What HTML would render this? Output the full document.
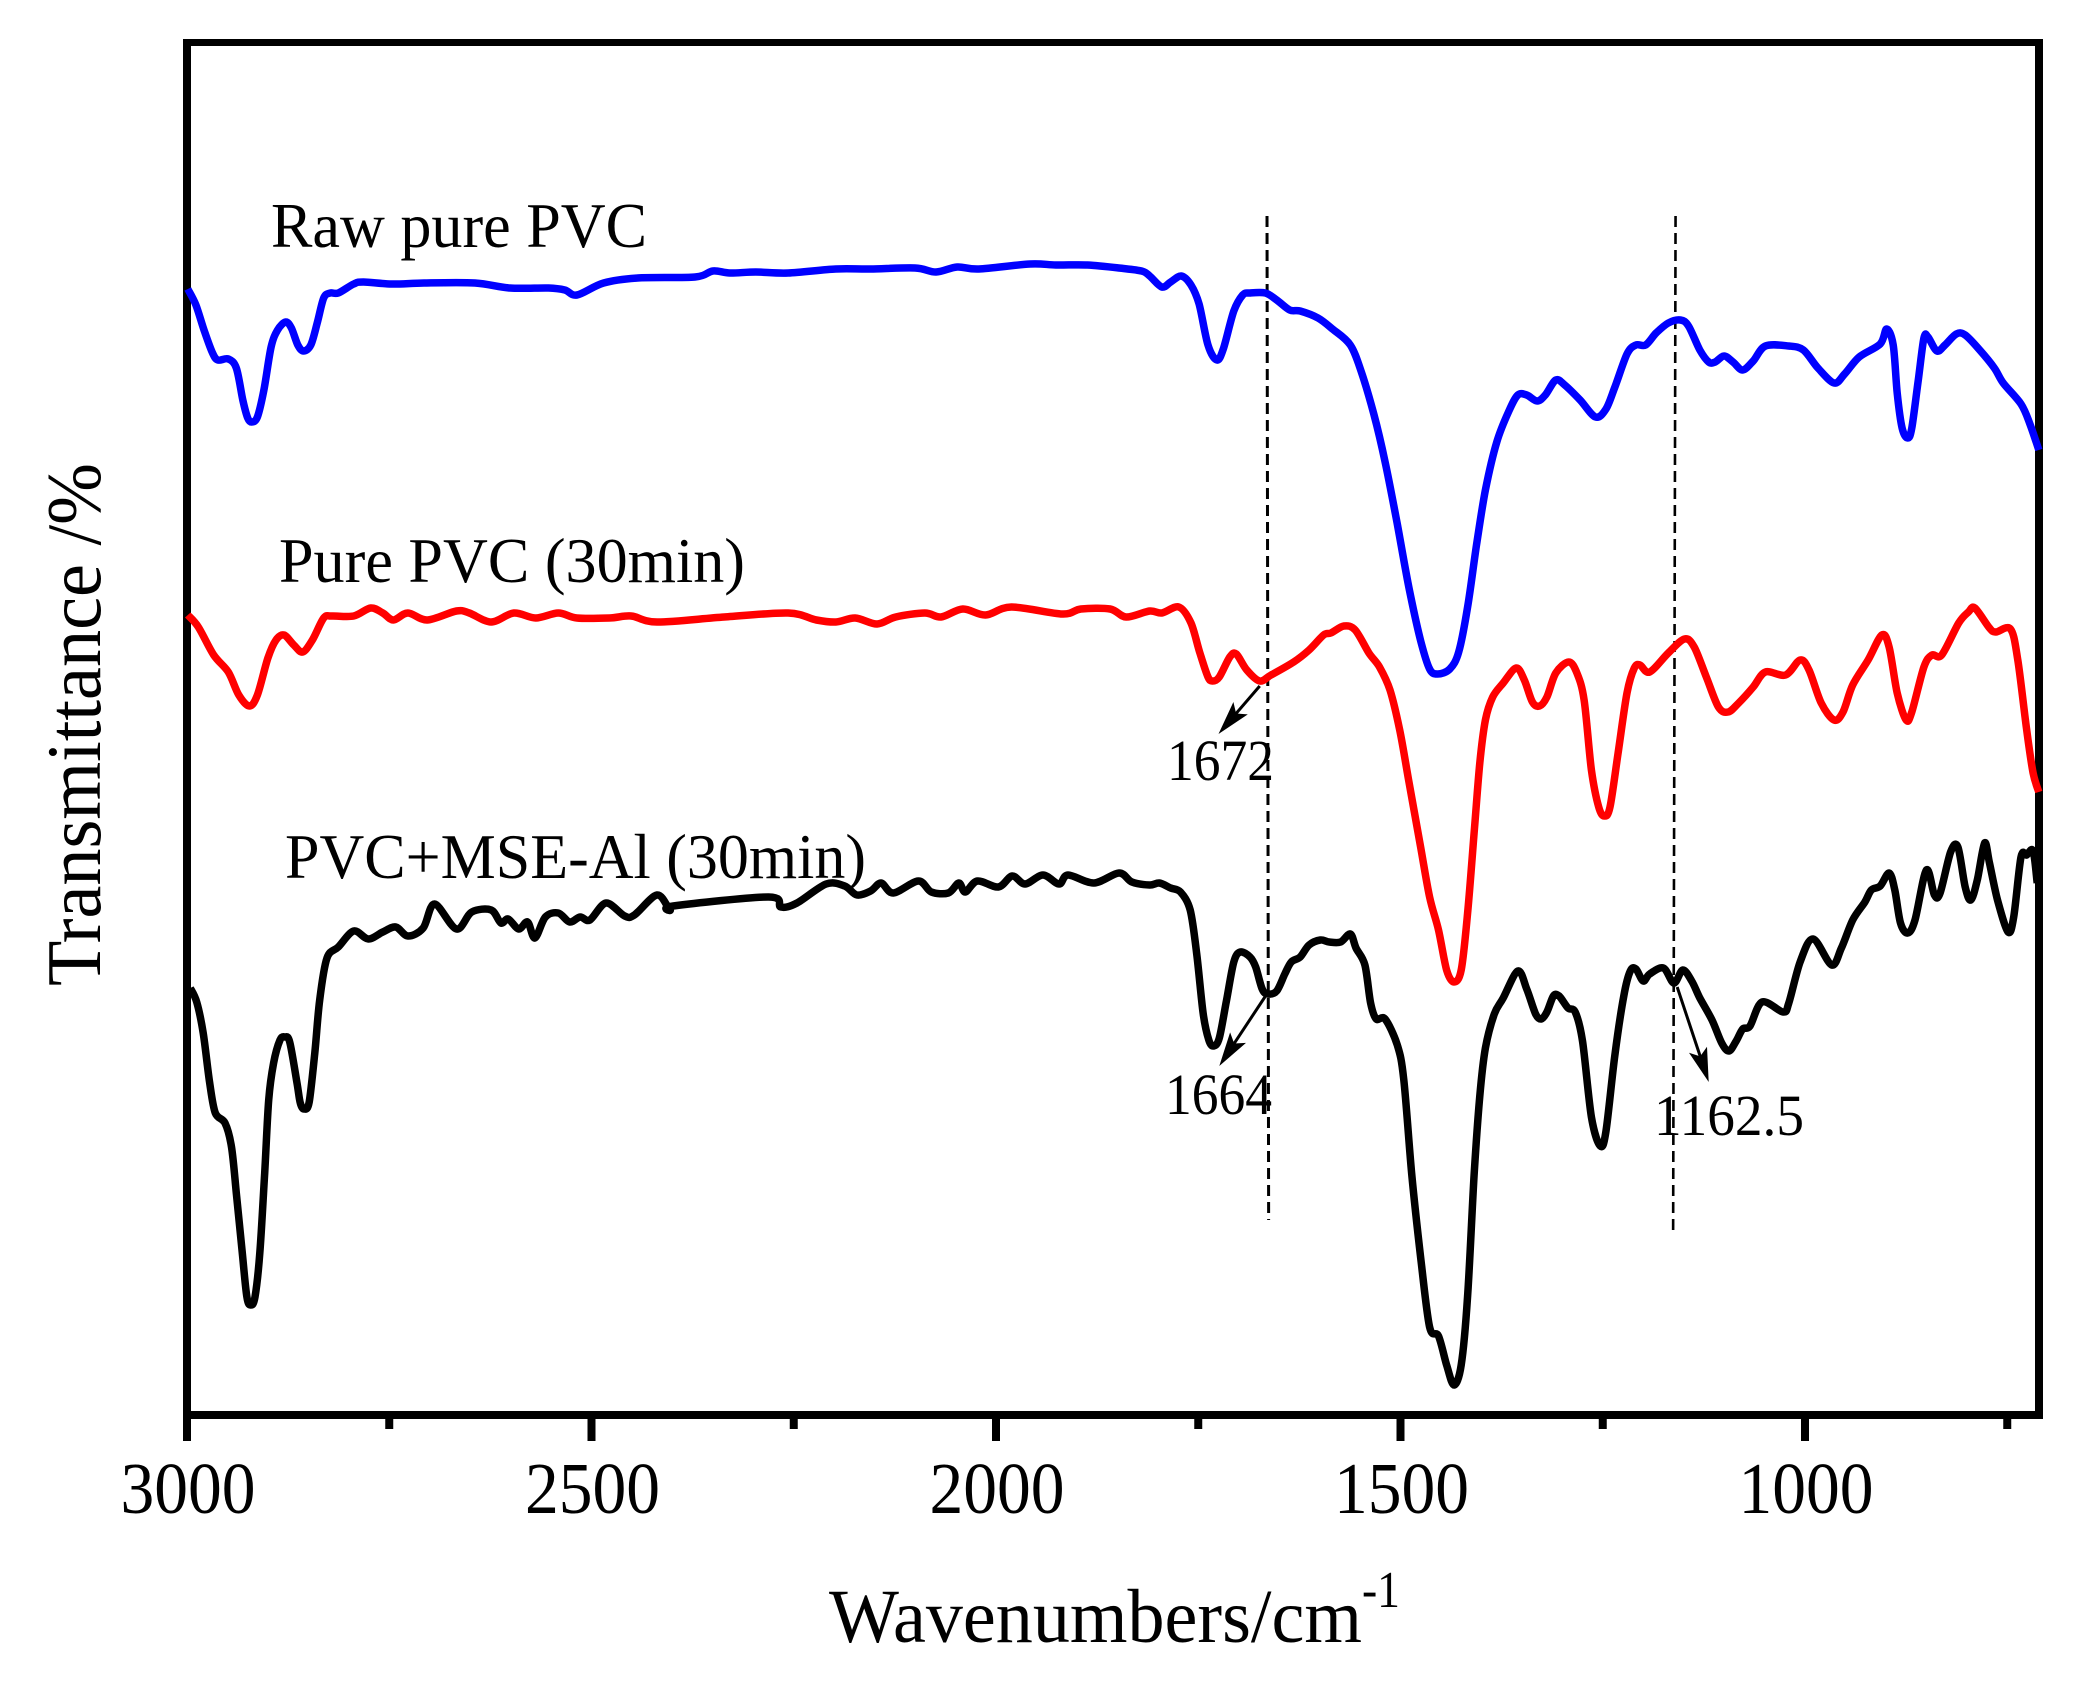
<!DOCTYPE html>
<html lang="en">
<head>
<meta charset="utf-8">
<title>FTIR spectra of PVC samples</title>
<style>
  html, body { margin: 0; padding: 0; background: #ffffff; }
  svg { display: block; }
  text { font-family: "Liberation Serif", serif; fill: #000; }
</style>
</head>
<body>
<svg id="chart" xmlns="http://www.w3.org/2000/svg" width="2073" height="1689" viewBox="0 0 2073 1689">
  <rect x="0" y="0" width="2073" height="1689" fill="#ffffff"/>
  <g id="axes"></g>
  <g id="guides"></g>
  <g id="series"></g>
  <g id="arrows"></g>

  <text x="271" y="247" font-size="64" textLength="376" lengthAdjust="spacingAndGlyphs">Raw pure PVC</text>
  <text x="279" y="582" font-size="64" textLength="466" lengthAdjust="spacingAndGlyphs">Pure PVC (30min)</text>
  <text x="285" y="878" font-size="64" textLength="581" lengthAdjust="spacingAndGlyphs">PVC+MSE-Al (30min)</text>

  <text x="1167" y="780" font-size="58" textLength="107" lengthAdjust="spacingAndGlyphs">1672</text>
  <text x="1165" y="1114" font-size="58" textLength="107" lengthAdjust="spacingAndGlyphs">1664</text>
  <text x="1654" y="1135" font-size="58" textLength="150" lengthAdjust="spacingAndGlyphs">1162.5</text>

  <text x="829" y="1642" font-size="76" textLength="533" lengthAdjust="spacingAndGlyphs">Wavenumbers/cm</text>
  <text x="1362" y="1607" font-size="52" textLength="38" lengthAdjust="spacingAndGlyphs">-1</text>
  <text transform="translate(100 986) rotate(-90)" font-size="77" textLength="523" lengthAdjust="spacingAndGlyphs">Transmittance /%</text>
</svg>

<script>
// ---- Tick data ----
const majorTicks = [3000, 2500, 2000, 1500, 1000];
const minorTicks = [2750, 2250, 1750, 1250, 750];
const majorTickLabels = ["3000", "2500", "2000", "1500", "1000"];

// ---- Raw pure PVC ----
const rawPvcWave = [2999,2989,2979,2969,2962,2949,2939,2931,2925,2920,2913,2905,2896,2888,2878,2871,2863,2856,2847,2839,2831,2823,2813,2794,2782,2747,2707,2644,2601,2553,2533,2518,2485,2443,2372,2350,2329,2297,2257,2198,2155,2100,2074,2048,2021,1958,1926,1887,1848,1820,1810,1795,1784,1771,1759,1749,1738,1727,1719,1706,1695,1686,1667,1653,1637,1624,1602,1584,1562,1548,1533,1519,1504,1489,1475,1464,1454,1439,1428,1417,1406,1395,1381,1366,1355,1344,1331,1321,1308,1297,1278,1259,1246,1235,1220,1209,1197,1184,1169,1154,1144,1130,1119,1111,1100,1089,1077,1064,1049,1020,1002,984,964,951,933,907,899,891,886,880,873,868,860,853,848,837,827,813,802,784,766,755,733,722,711];
const rawPvcT = [112.6,111.0,108.5,106.3,105.5,105.6,104.7,101.5,99.7,99.3,99.8,102.5,106.8,108.5,109.3,108.7,107.0,106.4,107.0,109.2,111.7,112.2,112.2,113.1,113.3,113.1,113.2,113.2,112.7,112.7,112.5,112.0,113.2,113.7,113.8,114.4,114.2,114.3,114.2,114.6,114.6,114.7,114.3,114.8,114.6,115.1,115.0,115.0,114.7,114.4,113.9,112.8,113.3,113.9,113.0,111.1,107.0,105.5,106.6,110.4,112.0,112.2,112.2,111.5,110.5,110.4,109.7,108.6,107.0,104.2,100.1,95.3,89.1,82.5,77.4,74.6,74.1,74.6,76.3,80.8,87.0,92.5,97.3,100.4,102.0,102.0,101.4,102.0,103.5,103.0,101.5,99.8,100.6,102.8,106.1,107.0,107.0,108.2,109.2,109.5,108.9,106.5,105.3,105.3,105.9,105.3,104.5,105.4,106.9,106.9,106.5,104.7,103.2,104.1,105.8,107.1,108.6,107.0,102.2,98.7,97.7,98.7,103.5,107.7,107.8,106.4,107.0,108.1,108.0,106.5,104.7,103.2,101.1,99.1,96.5];

// ---- Pure PVC (30 min) ----
const purePvcWave = [2999,2986,2967,2949,2936,2923,2913,2900,2890,2880,2868,2857,2845,2831,2821,2794,2773,2758,2745,2727,2703,2667,2651,2624,2596,2569,2541,2518,2478,2451,2419,2336,2257,2222,2198,2174,2147,2124,2088,2068,2041,2013,1981,1918,1895,1859,1839,1810,1795,1774,1759,1748,1738,1732,1724,1711,1703,1690,1674,1660,1632,1613,1595,1586,1570,1556,1539,1526,1513,1501,1490,1476,1464,1453,1443,1434,1425,1417,1409,1402,1395,1386,1373,1357,1347,1337,1328,1319,1308,1292,1282,1273,1264,1255,1248,1241,1231,1220,1211,1204,1192,1169,1149,1137,1122,1107,1095,1082,1064,1049,1024,1006,995,980,964,953,941,922,905,896,886,875,868,853,843,831,810,798,790,772,764,746,737,726,718,711];
const purePvcT = [80.0,78.8,76.0,74.3,72.0,70.9,72.0,75.7,77.5,78.0,77.0,76.3,77.5,79.7,79.9,79.9,80.7,80.2,79.5,80.2,79.5,80.4,80.2,79.3,80.2,79.7,80.2,79.7,79.7,79.9,79.3,79.8,80.2,79.5,79.3,79.7,79.1,79.8,80.2,79.8,80.6,80.0,80.8,80.1,80.6,80.6,79.8,80.4,80.2,80.8,79.2,76.2,73.8,73.4,73.8,75.8,76.1,74.5,73.4,74.0,75.3,76.5,78.0,78.2,78.9,78.5,76.2,74.8,72.5,68.5,63.5,57.2,51.8,48.5,44.5,43.3,44.5,50.2,58.2,65.2,69.5,71.8,73.2,74.7,73.5,71.3,70.9,71.8,74.2,75.3,74.2,71.5,64.5,60.8,59.9,60.8,66.2,72.2,74.7,75.0,74.3,76.2,77.6,76.8,73.8,70.8,70.3,71.2,72.8,74.3,74.0,75.5,74.5,71.2,69.5,70.3,73.0,75.5,78.0,76.8,72.2,69.5,70.3,74.8,76.0,76.0,79.2,80.3,80.7,78.7,78.3,78.6,75.5,68.5,64.2,62.3];

// ---- PVC + MSE-Al (30 min) ----
const mseAlWave = [2996,2988,2980,2972,2965,2953,2945,2939,2932,2926,2921,2916,2910,2904,2899,2893,2885,2879,2873,2864,2860,2855,2849,2842,2836,2827,2813,2794,2776,2758,2742,2727,2708,2694,2667,2648,2624,2612,2603,2590,2579,2570,2557,2541,2527,2514,2502,2482,2459,2447,2419,2403,2399,2281,2266,2246,2210,2187,2172,2155,2142,2127,2096,2080,2059,2046,2038,2023,1997,1980,1964,1942,1922,1911,1879,1848,1832,1810,1798,1784,1772,1760,1752,1744,1737,1731,1724,1715,1706,1698,1686,1679,1671,1664,1653,1643,1635,1624,1613,1599,1588,1574,1562,1555,1544,1537,1530,1519,1504,1496,1486,1475,1464,1453,1443,1434,1425,1417,1409,1402,1395,1384,1373,1355,1344,1333,1326,1319,1311,1304,1293,1284,1275,1264,1253,1246,1235,1224,1216,1209,1200,1192,1175,1162,1151,1140,1130,1115,1103,1094,1085,1077,1068,1053,1027,1020,1006,990,967,955,941,926,918,907,896,889,882,873,864,850,840,833,820,811,802,795,787,778,772,762,749,742,733,726,718,713];
const mseAlT = [42.7,41.3,38.2,33.2,30.2,29.2,26.8,22.2,16.5,11.8,11.0,11.8,16.2,24.2,31.5,35.2,37.5,37.8,37.3,33.2,31.2,30.6,31.3,36.2,41.5,45.7,46.8,48.4,47.6,48.3,48.8,47.9,48.7,51.1,48.6,50.3,50.5,49.2,49.6,48.6,49.3,47.7,49.8,50.2,49.3,49.8,49.5,51.2,49.9,50.0,52.0,50.5,50.9,51.8,50.8,51.2,53.1,52.9,52.0,52.4,53.2,52.2,53.4,52.3,52.2,53.2,52.3,53.4,52.8,53.9,53.1,54.0,53.1,54.0,53.2,54.2,53.3,53.0,53.2,52.7,52.3,50.5,46.2,40.2,37.5,36.9,37.7,41.5,45.3,46.3,45.8,44.8,42.6,42.1,42.4,44.1,45.3,45.8,47.0,47.5,47.3,47.3,48.1,46.7,45.0,41.2,39.6,39.6,37.0,33.6,24.0,15.7,8.8,7.9,5.0,3.0,5.0,11.9,24.0,31.9,36.7,40.1,41.7,44.4,42.6,40.1,39.6,40.3,41.9,41.9,40.7,40.3,37.4,29.8,26.9,28.4,36.0,41.9,44.4,44.6,43.4,44.1,44.7,43.2,44.5,43.4,41.7,39.5,37.2,36.4,37.4,38.6,38.9,41.3,40.3,41.2,45.3,47.6,45.0,46.7,49.5,51.3,52.5,52.9,54.2,52.5,49.2,48.2,49.5,54.5,52.0,52.2,56.3,56.8,52.8,51.5,53.5,57.2,55.2,51.5,48.3,49.8,55.8,56.0,56.4,53.2];

// ---- Annotation data (wavenumber / transmittance) ----
const guideWaveTop = [1665, 1160];
const guideWaveBottom = [1663, 1163];
const guideTTop = [119.9, 119.9];
const guideTBottom = [19.5, 18.5];
const arrowFromWave = [1674, 1666, 1158];
const arrowFromT = [72.9, 42.0, 42.8];
const arrowToWave = [1725, 1724, 1119];
const arrowToT = [68.1, 34.9, 33.3];

// ---- Scales ----
const plotLeft = 187, plotRight = 2039, plotTop = 42, plotBottom = 1415;
const pxPerWave = 0.809;
const tUnitPx = 10;
function xScale(w) { return plotLeft + (3000 - w) * pxPerWave; }
function yScale(t) { return plotBottom - t * tUnitPx; }

const NS = "http://www.w3.org/2000/svg";
function make(tag, parent, props) {
  const el = document.createElementNS(NS, tag);
  for (const k in props) el.setAttribute(k, props[k]);
  parent.appendChild(el);
  return el;
}

// ---- Axes ----
const axesG = document.getElementById("axes");
const frameTop = make("rect", axesG, { x: plotLeft - 4, y: 39, width: plotRight - plotLeft + 8, height: 7, fill: "#000" });


const frameBottom = make("rect", axesG, { x: plotLeft - 4, y: plotBottom - 4, width: plotRight - plotLeft + 8, height: 8, fill: "#000" });


const frameLeft = make("rect", axesG, { x: plotLeft - 4, y: plotTop - 3, width: 8, height: plotBottom - plotTop + 7, fill: "#000" });


const frameRight = make("rect", axesG, { x: plotRight - 4, y: plotTop - 3, width: 8, height: plotBottom - plotTop + 7, fill: "#000" });



majorTicks.forEach(function (w, i) {
  const tick = make("rect", axesG, { x: xScale(w) - 4, y: plotBottom, width: 8, height: 26, fill: "#000" });
  
  
  const label = make("text", axesG, { x: xScale(w) - 66.5, y: 1513, "font-size": 73, textLength: 135, lengthAdjust: "spacingAndGlyphs" });
  label.textContent = majorTickLabels[i];
  
  
});
minorTicks.forEach(function (w) {
  const tick = make("rect", axesG, { x: xScale(w) - 4, y: plotBottom, width: 8, height: 14, fill: "#000" });
  
  
});

// ---- Guides ----
const guidesG = document.getElementById("guides");
guideWaveTop.forEach(function (w, i) {
  const line = make("line", guidesG, {
    x1: xScale(w), y1: yScale(guideTTop[i]),
    x2: xScale(guideWaveBottom[i]), y2: yScale(guideTBottom[i]),
    stroke: "#000", "stroke-width": i === 0 ? 3 : 2.6, "stroke-dasharray": "11 6"
  });
  
  
});

// ---- Series ----
function smoothPath(waves, values) {
  const pts = waves.map(function (w, i) { return [xScale(w), yScale(values[i])]; });
  let d = "M" + pts[0][0].toFixed(1) + " " + pts[0][1].toFixed(1);
  const k = 0.16;
  for (let i = 0; i < pts.length - 1; i++) {
    const p0 = pts[Math.max(0, i - 1)], p1 = pts[i], p2 = pts[i + 1], p3 = pts[Math.min(pts.length - 1, i + 2)];
    const c1x = p1[0] + (p2[0] - p0[0]) * k, c1y = p1[1] + (p2[1] - p0[1]) * k;
    const c2x = p2[0] - (p3[0] - p1[0]) * k, c2y = p2[1] - (p3[1] - p1[1]) * k;
    d += "C" + c1x.toFixed(1) + " " + c1y.toFixed(1) + " " + c2x.toFixed(1) + " " + c2y.toFixed(1) + " " + p2[0].toFixed(1) + " " + p2[1].toFixed(1);
  }
  return d;
}
const seriesG = document.getElementById("series");
const pathProps = { fill: "none", "stroke-width": 7.5, "stroke-linejoin": "round", "stroke-linecap": "butt" };

const lineRaw = make("path", seriesG, Object.assign({ d: smoothPath(rawPvcWave, rawPvcT), stroke: "#0000ff" }, pathProps));


const linePure = make("path", seriesG, Object.assign({ d: smoothPath(purePvcWave, purePvcT), stroke: "#ff0000" }, pathProps));


const lineMse = make("path", seriesG, Object.assign({ d: smoothPath(mseAlWave, mseAlT), stroke: "#000000" }, pathProps));



// ---- Arrows ----
const arrowsG = document.getElementById("arrows");
const headLen = 34, headHalf = 9.5, headNotch = 7;
arrowFromWave.forEach(function (w, i) {
  const x1 = xScale(w), y1 = yScale(arrowFromT[i]);
  const x2 = xScale(arrowToWave[i]), y2 = yScale(arrowToT[i]);
  const dx = x2 - x1, dy = y2 - y1, len = Math.sqrt(dx * dx + dy * dy);
  const ux = dx / len, uy = dy / len;
  const shaft = make("line", arrowsG, { x1: x1, y1: y1, x2: x2 - ux * 20, y2: y2 - uy * 20, stroke: "#000", "stroke-width": 3 });
  
  
  const bx = x2 - ux * headLen, by = y2 - uy * headLen;
  const nx = x2 - ux * (headLen - headNotch), ny = y2 - uy * (headLen - headNotch);
  const head = make("polygon", arrowsG, {
    points: [x2, y2, bx - uy * headHalf, by + ux * headHalf, nx, ny, bx + uy * headHalf, by - ux * headHalf].map(function (v) { return v.toFixed(1); }).join(" "),
    fill: "#000"
  });
  
  
});
</script>
</body>
</html>
